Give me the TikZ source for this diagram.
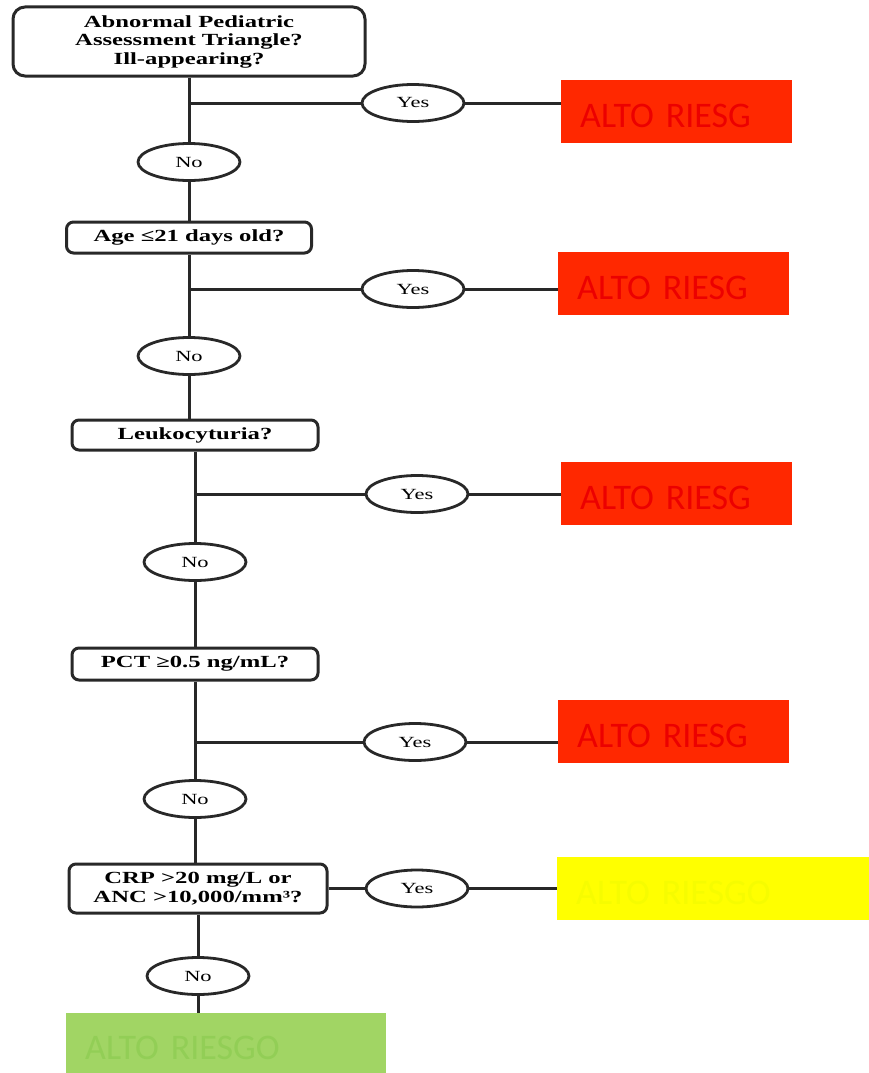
\documentclass[tikz,border=0pt]{standalone}
\usepackage{fontspec}
\usetikzlibrary{shapes.geometric}
\newfontfamily\chartfont[FakeStretch=1.45]{Liberation Serif}
\newfontfamily\riskfont{Carlito}
\definecolor{linegray}{RGB}{40,40,40}
\definecolor{highred}{RGB}{255,40,0}
\definecolor{highredtext}{RGB}{236,0,0}
\definecolor{midyellow}{RGB}{255,255,0}
\definecolor{midyellowtext}{RGB}{246,252,0}
\definecolor{lowgreen}{RGB}{161,213,100}
\definecolor{lowgreentext}{RGB}{146,206,86}
\tikzset{flow/.style={draw=linegray, line width=3pt}}
\tikzset{question/.style={draw=linegray, line width=3pt, rounded corners=7pt, fill=white, inner sep=0pt, align=center, font=\chartfont\bfseries\fontsize{17}{18.5}\selectfont}}
\tikzset{answer/.style={ellipse, draw=linegray, line width=2.8pt, fill=white, minimum width=102pt, minimum height=37pt, inner sep=0pt, font=\chartfont\fontsize{15.5}{15.5}\selectfont}}
\tikzset{risk/.style={anchor=north west, inner xsep=19pt, inner ysep=0pt, align=left, text height=32pt, text depth=0pt, font=\riskfont\fontsize{36}{36}\selectfont}}
\tikzset{highrisk/.style={risk, fill=highred, text=highredtext, text width=193pt, minimum height=63pt}}

\begin{document}
\begin{tikzpicture}[x=1pt, y=-1pt]
\useasboundingbox (0,0) rectangle (869,1073);
\node[question, rounded corners=12pt, minimum width=352pt, minimum height=69pt] (q1) at (189,41.5) {Abnormal Pediatric\\Assessment Triangle?\\Ill-appearing?};
\node[answer] (y1) at (413,103) {Yes};
\node[highrisk] (r1) at (561,80) {ALTO RIESG};
\node[answer] (n1) at (189,162) {No};
\node[question, minimum width=245pt, minimum height=31pt] (q2) at (189,237.5) {Age ≤21 days old?};
\node[answer] (y2) at (413,289) {Yes};
\node[highrisk] (r2) at (558,252) {ALTO RIESG};
\node[answer] (n2) at (189,356) {No};
\node[question, minimum width=246pt, minimum height=30pt] (q3) at (195,435) {Leukocyturia?};
\node[answer] (y3) at (417,494) {Yes};
\node[highrisk] (r3) at (561,462) {ALTO RIESG};
\node[answer] (n3) at (195,562) {No};
\node[question, minimum width=246pt, minimum height=32pt] (q4) at (195,664) {PCT ≥0.5 ng/mL?};
\node[answer] (y4) at (415,742) {Yes};
\node[highrisk] (r4) at (558,700) {ALTO RIESG};
\node[answer] (n4) at (195,799) {No};
\node[question, minimum width=258pt, minimum height=49pt] (q5) at (198,888.5) {CRP >20 mg/L or\\ANC >10,000/mm³?};
\node[answer] (y5) at (417,888.5) {Yes};
\node[risk, fill=midyellow, text=midyellowtext, text width=274pt, minimum height=63pt] (mid) at (557,857) {ALTO RIESGO};
\node[answer] (n5) at (198,976) {No};
\node[risk, fill=lowgreen, text=lowgreentext, text width=282pt, minimum height=60pt, text height=33pt] (low) at (66,1013) {ALTO RIESGO};
% trunk
\draw[flow] (q1) -- (n1) -- (q2) -- (n2) (q3) -- (n3) -- (q4) -- (n4) (q5) -- (n5) (n5) -- (n5 |- low.north);
\draw[flow] (n2.south) -- (n2.south |- q3.north) (n4.south) -- (n4.south |- q5.north);
% yes branches
\coordinate (b1) at (q1.south |- y1);
\coordinate (b2) at (q2.south |- y2);
\coordinate (b3) at (q3.south |- y3);
\coordinate (b4) at (q4.south |- y4);
\draw[flow] (b1) -- (y1) (y1.east) -- (y1.east -| r1.west);
\draw[flow] (b2) -- (y2) (y2.east) -- (y2.east -| r2.west);
\draw[flow] (b3) -- (y3) (y3.east) -- (y3.east -| r3.west);
\draw[flow] (b4) -- (y4) (y4.east) -- (y4.east -| r4.west);
\draw[flow] (q5) -- (y5) (y5.east) -- (y5.east -| mid.west);
\end{tikzpicture}
\end{document}
